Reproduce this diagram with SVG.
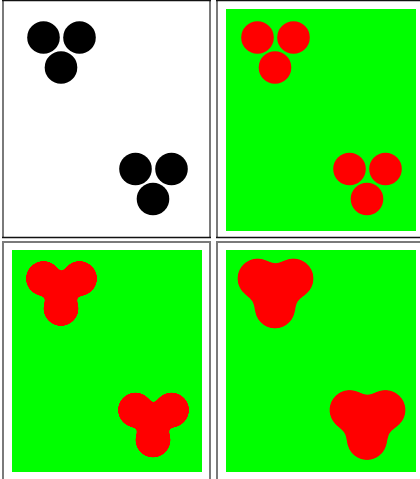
<svg xmlns="http://www.w3.org/2000/svg" xmlns:xlink="http://www.w3.org/1999/xlink" width="420" height="479" viewBox="0 0 420 479">
  <style>
    .bg { fill: #00ff00; }
    .gray { stroke: #7a7a7a; stroke-width: 2; fill: none; }
    .dark { stroke: #111; stroke-width: 1.5; fill: none; }
  </style>
  <defs>
    <g id="dots">
      <circle cx="43.5" cy="37.5" r="16.3"/>
      <circle cx="79.5" cy="37.5" r="16.3"/>
      <circle cx="61" cy="67.5" r="16.3"/>
      <circle cx="135.5" cy="169" r="16.3"/>
      <circle cx="171.5" cy="169" r="16.3"/>
      <circle cx="153" cy="199" r="16.3"/>
    </g>
    <filter id="goo1" filterUnits="userSpaceOnUse" x="0" y="0" width="420" height="479">
      <feGaussianBlur in="SourceGraphic" stdDeviation="4"/>
      <feColorMatrix type="matrix" values="1 0 0 0 0  0 1 0 0 0  0 0 1 0 0  0 0 0 30 -10"/>
    </filter>
    <filter id="goo2" filterUnits="userSpaceOnUse" x="0" y="0" width="420" height="479">
      <feGaussianBlur in="SourceGraphic" stdDeviation="8"/>
      <feColorMatrix type="matrix" values="1 0 0 0 0  0 1 0 0 0  0 0 1 0 0  0 0 0 30 -7"/>
    </filter>
  </defs>
  <rect width="420" height="479" fill="#ffffff"/>

  <g id="panel-1">
    <line class="gray" x1="3" y1="0" x2="3" y2="238"/>
    <line class="gray" x1="210" y1="0" x2="210" y2="238"/>
    <line class="dark" x1="2" y1="0.5" x2="211" y2="0.5"/>
    <line class="dark" x1="2" y1="237.5" x2="211" y2="237.5"/>
    <use xlink:href="#dots" fill="#000000"/>
  </g>

  <g id="panel-2">
    <line class="gray" x1="217" y1="0" x2="217" y2="238"/>
    <line class="dark" x1="216" y1="0.5" x2="420" y2="0.5"/>
    <line class="dark" x1="216" y1="237.5" x2="420" y2="237.5"/>
    <rect class="bg" x="226" y="9" width="190" height="222"/>
    <use xlink:href="#dots" fill="#ff0000" transform="translate(214,0)"/>
  </g>

  <g id="panel-3">
    <line class="gray" x1="3" y1="242" x2="3" y2="479"/>
    <line class="gray" x1="210" y1="242" x2="210" y2="479"/>
    <line class="gray" x1="2" y1="242" x2="211" y2="242"/>
    <rect class="bg" x="12" y="250" width="190" height="222"/>
    <g filter="url(#goo1)">
      <use xlink:href="#dots" fill="#ff0000" transform="translate(0,241)"/>
    </g>
  </g>

  <g id="panel-4">
    <line class="gray" x1="217" y1="242" x2="217" y2="479"/>
    <line class="gray" x1="216" y1="242" x2="420" y2="242"/>
    <rect class="bg" x="226" y="250" width="190" height="222"/>
    <g filter="url(#goo2)">
      <use xlink:href="#dots" fill="#ff0000" transform="translate(214,241)"/>
    </g>
  </g>
</svg>
